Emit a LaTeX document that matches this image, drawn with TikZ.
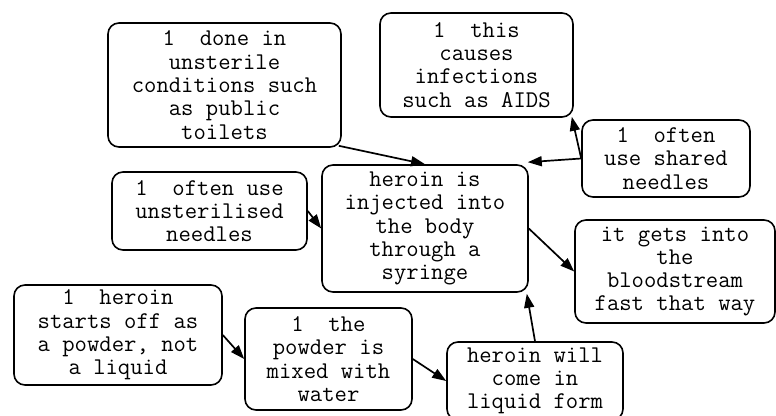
\documentclass[tikz,border=0pt]{standalone}
\usepackage{fontspec}
\usetikzlibrary{arrows.meta}
\begin{document}
\begin{tikzpicture}[x=1pt,y=-1pt,
  box/.style={draw, line width=1.6pt, rounded corners=11pt, inner sep=0pt,
    align=center, font={\ttfamily\fontsize{24}{23.3}\selectfont}},
  conn/.style={line width=1.7pt, -{Triangle[length=14pt,width=10pt]}}]
\useasboundingbox (0,0) rectangle (776,415);
\node[box, minimum width=233pt, minimum height=124pt] (b1) at (224.5,85)
  {1\ \ done in\\unsterile\\conditions such\\as public\\toilets};
\node[box, minimum width=193pt, minimum height=104pt] (b2) at (476.5,65)
  {1\ \ this\\causes\\infections\\such as AIDS};
\node[box, minimum width=168pt, minimum height=77pt] (b3) at (666,158.5)
  {1\ \ often\\use shared\\needles};
\node[box, minimum width=206pt, minimum height=127pt] (b4) at (425,228.5)
  {heroin is\\injected into\\the body\\through a\\syringe};
\node[box, minimum width=195pt, minimum height=78pt] (b5) at (209.5,211)
  {1\ \ often use\\unsterilised\\needles};
\node[box, minimum width=200pt, minimum height=103pt] (b6) at (675,271.5)
  {it gets into\\the\\bloodstream\\fast that way};
\node[box, minimum width=208pt, minimum height=100pt] (b7) at (118,335)
  {1\ \ heroin\\starts off as\\a powder, not\\a liquid};
\node[box, minimum width=167pt, minimum height=102pt] (b8) at (328.5,359)
  {1\ \ the\\powder is\\mixed with\\water};
\node[box, minimum width=176pt, minimum height=78pt] (b9) at (535,381)
  {heroin will\\come in\\liquid form};
\draw[conn] ([shift={(-3pt,2pt)}]b1.south east) -- (b4.north);
\draw[conn] (b3.west) -- ([shift={(-1pt,2pt)}]b4.north east);
\draw[conn] (b3.west) -- ([shift={(-2pt,1pt)}]b2.south east);
\draw[conn] (b5.east) -- (b4.west);
\draw[conn] (b4.east) -- (b6.west);
\draw[conn] (b9.north) -- ([shift={(-2pt,-1pt)}]b4.south east);
\draw[conn] (b7.east) -- (b8.west);
\draw[conn] (b8.east) -- (b9.west);
\end{tikzpicture}
\end{document}
